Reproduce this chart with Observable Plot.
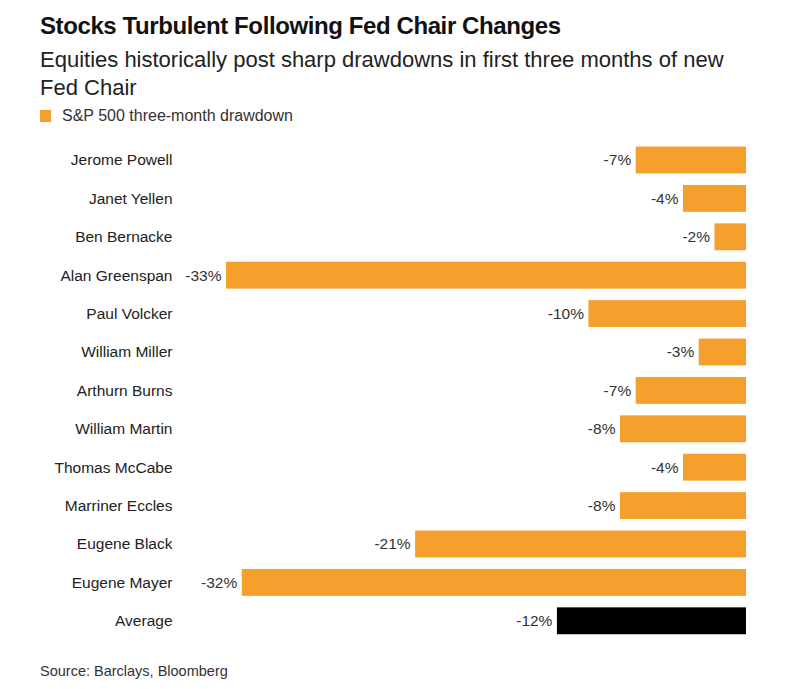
<!DOCTYPE html>
<html>
<head>
<meta charset="utf-8">
<script src="https://cdn.jsdelivr.net/npm/d3@7"></script>
<script src="https://cdn.jsdelivr.net/npm/@observablehq/plot@0.6"></script>
<style>
  body { margin: 0; background: #fff; font-family: "Liberation Sans", Arial, sans-serif; color: #1a1a1a; }
  #wrap { position: relative; width: 800px; height: 689px; }
  .title { position: absolute; left: 40px; top: 12px; font-size: 24px; line-height: 28px; font-weight: bold; letter-spacing: -0.4px; color: #111; white-space: nowrap; }
  .subtitle { position: absolute; left: 40px; top: 46px; width: 720px; font-size: 22px; line-height: 28px; color: #222; }
  .legend { position: absolute; left: 40px; top: 106px; font-size: 16px; line-height: 20px; color: #333; display: flex; align-items: center; }
  .legend .sw { width: 11px; height: 12px; background: #f5a02c; margin-right: 11px; }
  #chart { position: absolute; left: 0; top: 130px; }
  .source { position: absolute; left: 40px; top: 662px; font-size: 14.5px; line-height: 18px; color: #333; }
</style>
</head>
<body>
<div id="wrap">
  <div class="title">Stocks Turbulent Following Fed Chair Changes</div>
  <div class="subtitle">Equities historically post sharp drawdowns in first three months of new Fed Chair</div>
  <div class="legend"><span class="sw"></span>S&amp;P 500 three-month drawdown</div>
  <div id="chart"></div>
  <div class="source">Source: Barclays, Bloomberg</div>
</div>
<script>
const chairs = ["Jerome Powell", "Janet Yellen", "Ben Bernacke", "Alan Greenspan", "Paul Volcker", "William Miller", "Arthurn Burns", "William Martin", "Thomas McCabe", "Marriner Eccles", "Eugene Black", "Eugene Mayer", "Average"];
const drawdowns = [-7, -4, -2, -33, -10, -3, -7, -8, -4, -8, -21, -32, -12];
const kinds = ["chair", "chair", "chair", "chair", "chair", "chair", "chair", "chair", "chair", "chair", "chair", "chair", "average"];

const data = chairs.map((name, i) => ({name, value: drawdowns[i], kind: kinds[i]}));

const chart = Plot.plot({
  width: 800,
  height: 520,
  marginLeft: 226,
  marginRight: 54,
  marginTop: 10.8,
  marginBottom: 10,
  style: {fontFamily: "'Liberation Sans', Arial, sans-serif", fontSize: "15.5px", color: "#222", background: "#fff"},
  x: {domain: [-33, 0], axis: null},
  y: {domain: chairs, paddingInner: 0.3, paddingOuter: 0.15, round: false, label: null, tickSize: 0, tickPadding: 54},
  color: {domain: ["chair", "average"], range: ["#f5a02c", "#000000"]},
  marks: [
    Plot.barX(data, {x1: 0, x2: "value", y: "name", fill: "kind"}),
    Plot.text(data, {x: "value", y: "name", text: d => `${d.value}%`, textAnchor: "end", dx: -5, fontSize: 15.5, fill: "#333"})
  ]
});
document.getElementById("chart").appendChild(chart);
</script>
</body>
</html>
